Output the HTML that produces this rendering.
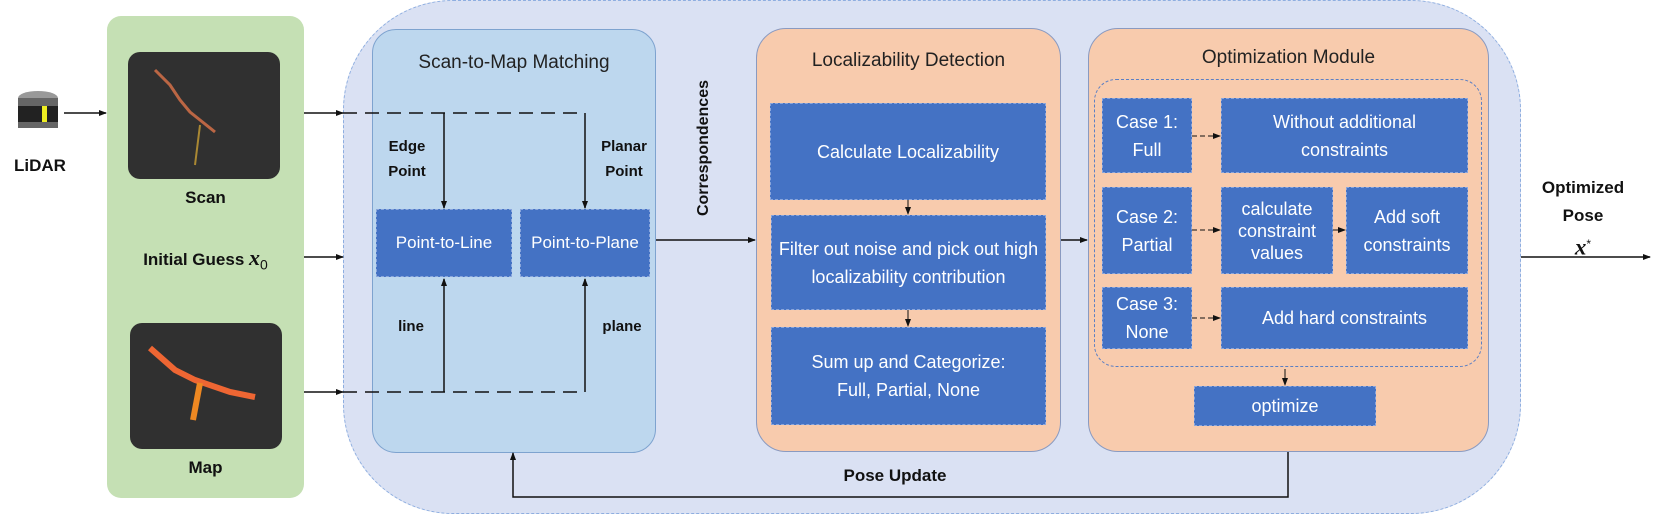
<!DOCTYPE html>
<html><head><meta charset="utf-8"><style>
body{margin:0;width:1661px;height:514px;background:#fff;position:relative;overflow:hidden;font-family:"Liberation Sans",sans-serif}
div{position:absolute;box-sizing:border-box}
.b{background:#4472c4;color:#fff;display:flex;align-items:center;justify-content:center;text-align:center;font-size:17px;line-height:24px;border:1px dashed #8aa6dc}
.t{font-size:16px;font-weight:bold;color:#111;text-align:center}
.h{font-size:19px;color:#222;text-align:center;width:100%}
</style></head><body>
<div style="left:343px;top:0px;width:1178px;height:514px;background:#dae1f3;border:1px dashed #8eaee0;border-radius:110px"></div>
<div style="left:107px;top:16px;width:197px;height:482px;background:#c5e0b4;border-radius:14px"></div>
<div style="left:128px;top:52px;width:152px;height:127px;background:#303030;border-radius:12px"></div>
<div style="left:130px;top:323px;width:152px;height:126px;background:#303030;border-radius:12px"></div>
<div style="left:372px;top:29px;width:284px;height:424px;background:#bdd7ee;border:1px solid #7ea3cf;border-radius:24px"><div class="h" style="top:22px">Scan-to-Map Matching</div></div>
<div style="left:756px;top:28px;width:305px;height:424px;background:#f8cbad;border:1px solid #8a9ac0;border-radius:30px"><div class="h" style="top:21px">Localizability Detection</div></div>
<div style="left:1088px;top:28px;width:401px;height:424px;background:#f8cbad;border:1px solid #8a9ac0;border-radius:30px"><div class="h" style="top:18px">Optimization Module</div></div>
<div style="left:1094px;top:79px;width:388px;height:288px;border:1px dashed #5b7fc4;border-radius:22px"></div>
<svg width="1661" height="514" style="position:absolute;left:0;top:0">
<defs><marker id="a" markerWidth="8" markerHeight="8" refX="7" refY="4" orient="auto" markerUnits="userSpaceOnUse"><path d="M0,1 L8,4 L0,7 z" fill="#111"/></marker></defs>
<g stroke="#111" stroke-width="1.5" fill="none">
<path d="M64,113 H106" marker-end="url(#a)"/>
<path d="M304,113 H343" marker-end="url(#a)"/>
<path d="M304,257 H343" marker-end="url(#a)"/>
<path d="M304,392 H343" marker-end="url(#a)"/>
<path d="M343,113 H585" stroke-dasharray="14,8"/>
<path d="M343,392 H585" stroke-dasharray="14,8"/>
<path d="M444,113 V208" marker-end="url(#a)"/>
<path d="M585,113 V208" marker-end="url(#a)"/>
<path d="M444,392 V279" marker-end="url(#a)"/>
<path d="M585,392 V279" marker-end="url(#a)"/>
<path d="M656,240 H755" marker-end="url(#a)"/>
<path d="M1061,240 H1087" marker-end="url(#a)"/>
<path d="M1521,257 H1650" marker-end="url(#a)"/>
<path d="M908,200 V214" stroke-width="1" marker-end="url(#a)"/>
<path d="M908,310 V326" stroke-width="1" marker-end="url(#a)"/>
<path d="M1285,369 V385" stroke-width="1" marker-end="url(#a)"/>
<path d="M1192,136 H1220" stroke-width="1" stroke-dasharray="5,3" marker-end="url(#a)"/>
<path d="M1192,230 H1220" stroke-width="1" stroke-dasharray="5,3" marker-end="url(#a)"/>
<path d="M1333,230 H1345" stroke-width="1" marker-end="url(#a)"/>
<path d="M1192,318 H1220" stroke-width="1" stroke-dasharray="5,3" marker-end="url(#a)"/>
<path d="M1288,452 V497 H513 V453" marker-end="url(#a)"/>
</g>
<path d="M155,70 L170,85 L180,100 L190,112 L200,120 L215,132" stroke="#b64" stroke-width="3" fill="none"/>
<path d="M200,125 L195,165" stroke="#a83" stroke-width="2" fill="none"/>
<path d="M150,348 L175,370 L195,380 L230,392 L255,397" stroke="#e63" stroke-width="6" fill="none"/>
<path d="M200,383 L193,420" stroke="#e82" stroke-width="6" fill="none"/>
<ellipse cx="38" cy="98" rx="20" ry="7" fill="#999"/>
<rect x="18" y="98" width="40" height="30" fill="#666"/>
<rect x="18" y="106" width="40" height="16" fill="#222"/><rect x="42" y="106" width="5" height="16" fill="#ee2"/>
</svg>
<div class="t" style="left:5px;top:156px;width:70px;font-size:17px">LiDAR</div>
<div class="t" style="left:107px;top:188px;width:197px;font-size:17px">Scan</div>
<div class="t" style="left:107px;top:458px;width:197px;font-size:17px">Map</div>
<div class="t" style="left:107px;top:245px;width:197px;font-size:17px">Initial Guess <i style="font-family:'Liberation Serif';font-size:22px">x</i><sub style="font-weight:normal;font-size:14px">0</sub></div>
<div class="t" style="left:377px;top:134px;width:60px;font-size:15px;line-height:25px">Edge<br>Point</div>
<div class="t" style="left:592px;top:134px;width:64px;font-size:15px;line-height:25px">Planar<br>Point</div>
<div class="t" style="left:381px;top:318px;width:60px;font-size:15px">line</div>
<div class="t" style="left:592px;top:318px;width:60px;font-size:15px">plane</div>
<div class="t" style="left:624px;top:139px;width:160px;font-size:16px;transform:rotate(-90deg)">Correspondences</div>
<div class="t" style="left:800px;top:466px;width:190px;font-size:17px">Pose Update</div>
<div class="t" style="left:1523px;top:174px;width:120px;line-height:28px;font-size:17px">Optimized<br>Pose<br><i style="font-family:'Liberation Serif';font-size:23px">x</i><sup style="font-weight:normal;font-size:12px">*</sup></div>
<div class="b" style="left:376px;top:209px;width:136px;height:68px">Point-to-Line</div>
<div class="b" style="left:520px;top:209px;width:130px;height:68px">Point-to-Plane</div>
<div class="b" style="left:770px;top:103px;width:276px;height:97px;font-size:18px">Calculate Localizability</div>
<div class="b" style="left:771px;top:215px;width:275px;height:95px;font-size:18px;line-height:28px;padding:0 6px">Filter out noise and pick out high localizability contribution</div>
<div class="b" style="left:771px;top:327px;width:275px;height:98px;font-size:18px;line-height:28px">Sum up and Categorize:<br>Full, Partial, None</div>
<div class="b" style="left:1102px;top:98px;width:90px;height:75px;line-height:28px;font-size:18px">Case 1:<br>Full</div>
<div class="b" style="left:1221px;top:98px;width:247px;height:75px;line-height:28px;font-size:18px">Without additional<br>constraints</div>
<div class="b" style="left:1102px;top:187px;width:90px;height:87px;line-height:28px;font-size:18px">Case 2:<br>Partial</div>
<div class="b" style="left:1221px;top:187px;width:112px;height:87px;line-height:22px;font-size:18px">calculate constraint values</div>
<div class="b" style="left:1346px;top:187px;width:122px;height:87px;line-height:28px;font-size:18px">Add soft<br>constraints</div>
<div class="b" style="left:1102px;top:287px;width:90px;height:62px;line-height:28px;font-size:18px">Case 3:<br>None</div>
<div class="b" style="left:1221px;top:287px;width:247px;height:62px;font-size:18px">Add hard constraints</div>
<div class="b" style="left:1194px;top:386px;width:182px;height:40px;font-size:18px">optimize</div>
</body></html>
